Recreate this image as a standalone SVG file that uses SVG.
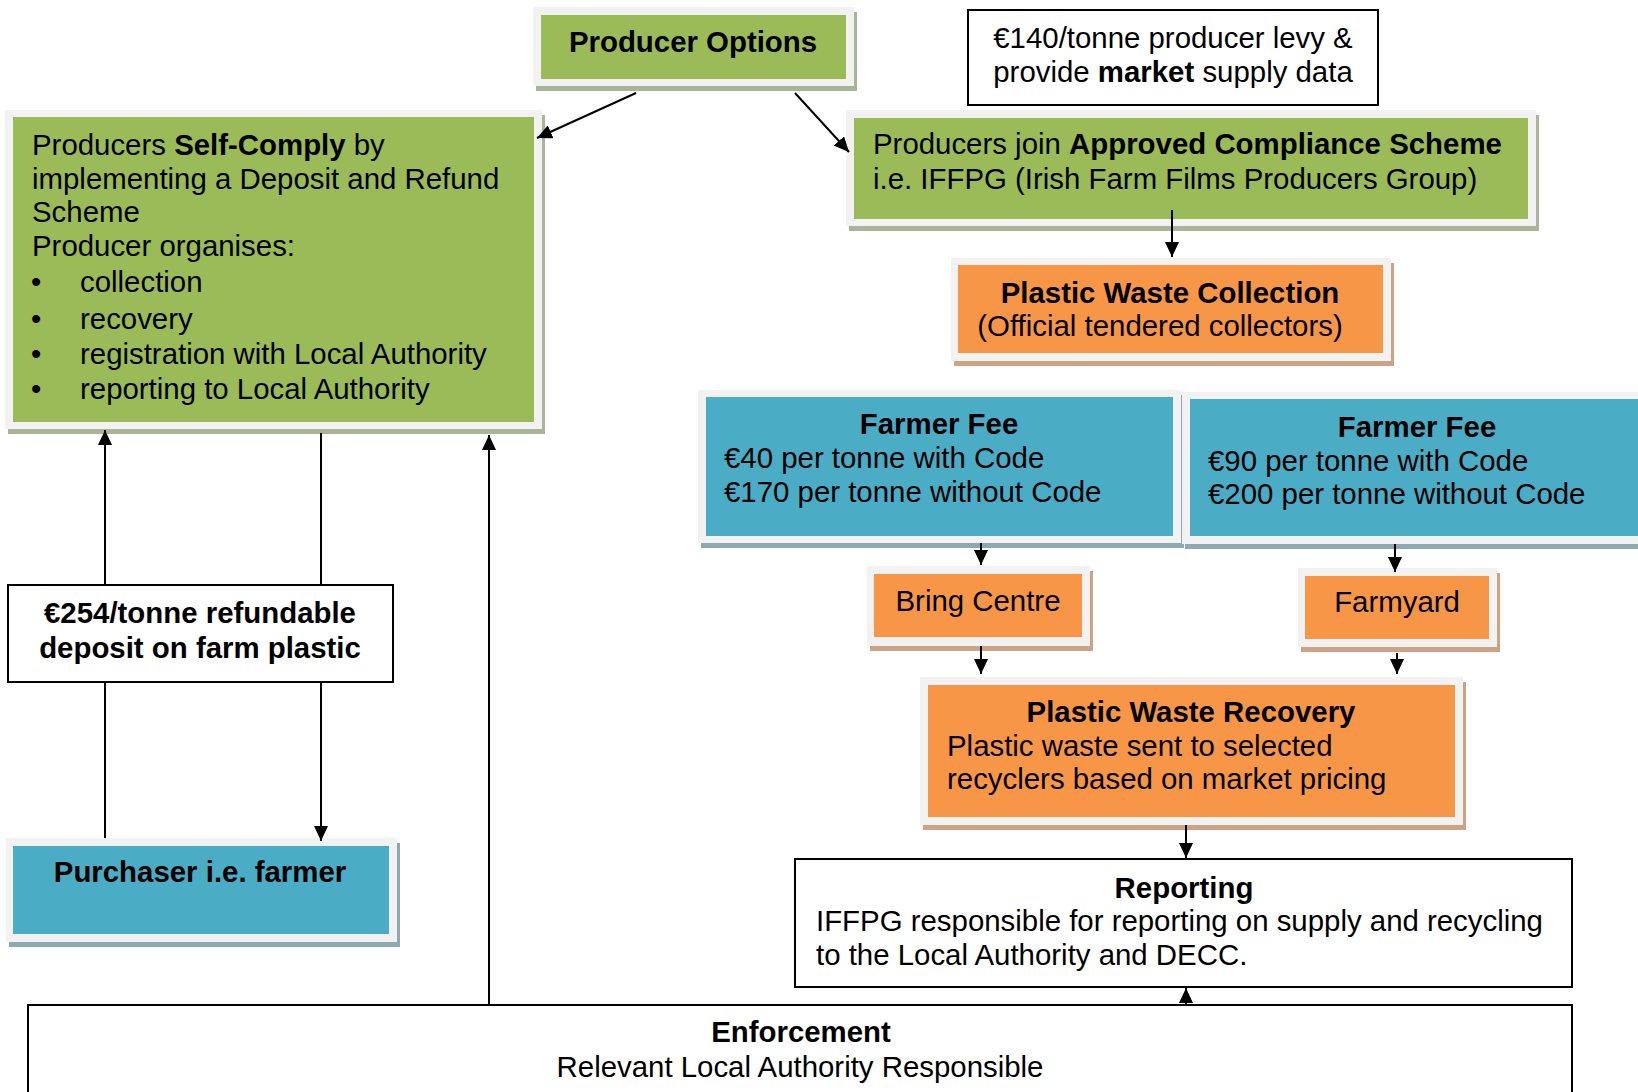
<svg xmlns="http://www.w3.org/2000/svg" width="1638" height="1092" viewBox="0 0 1638 1092">
<defs>
<style>
text{font-family:"Liberation Sans",Arial,sans-serif;font-size:29.4px;fill:#000}
.b{font-weight:bold}
.m{text-anchor:middle}
.frame{fill:#f2f2f2}
.g{fill:#9bbb59}
.o{fill:#f79646}
.c{fill:#4bacc6}
.gs{fill:#a9b596}
.os{fill:#cda386}
.cs{fill:#8fa9b1}
.box{fill:#fff;stroke:#000;stroke-width:2}
.cn line{stroke:#000;stroke-width:2}
</style>
<marker id="ah" markerUnits="userSpaceOnUse" markerWidth="16" markerHeight="14" refX="15" refY="7" orient="auto">
<path d="M0,0 L15,7 L0,14 z" fill="#000"/>
</marker>
</defs>
<rect width="1638" height="1092" fill="#fff"/>

<g id="producer-options">
<rect class="gs" x="536" y="12" width="321" height="79"/>
<rect class="frame" x="533" y="7" width="321" height="79"/>
<rect class="g" x="541" y="15" width="305" height="64"/>
<text class="b m" x="693" y="52">Producer Options</text>
</g>

<g id="levy">
<rect class="box" x="968" y="10" width="410" height="95"/>
<text class="m" x="1173" y="48">€140/tonne producer levy &amp;</text>
<text class="m" x="1173" y="82">provide <tspan class="b">market</tspan> supply data</text>
</g>

<g id="self-comply">
<rect class="gs" x="8" y="115" width="537" height="319"/>
<rect class="frame" x="5" y="110" width="537" height="319"/>
<rect class="g" x="13" y="117" width="521" height="305"/>
<text x="32" y="155">Producers <tspan class="b">Self-Comply</tspan> by</text>
<text x="32" y="189">implementing a Deposit and Refund</text>
<text x="32" y="222">Scheme</text>
<text x="32" y="256">Producer organises:</text>
<text x="31" y="292">•</text><text x="80" y="292">collection</text>
<text x="31" y="329">•</text><text x="80" y="329">recovery</text>
<text x="31" y="364">•</text><text x="80" y="364">registration with Local Authority</text>
<text x="31" y="399">•</text><text x="80" y="399">reporting to Local Authority</text>
</g>

<g id="compliance-scheme">
<rect class="gs" x="849" y="115" width="690" height="116"/>
<rect class="frame" x="846" y="110" width="690" height="116"/>
<rect class="g" x="854" y="118" width="674" height="101"/>
<text x="873" y="154">Producers join <tspan class="b">Approved Compliance Scheme</tspan></text>
<text x="873" y="189">i.e. IFFPG (Irish Farm Films Producers Group)</text>
</g>

<g id="collection">
<rect class="os" x="954" y="263" width="440" height="103"/>
<rect class="frame" x="951" y="258" width="440" height="103"/>
<rect class="o" x="958" y="265" width="425" height="88"/>
<text class="b m" x="1170" y="303">Plastic Waste Collection</text>
<text class="m" x="1160" y="336">(Official tendered collectors)</text>
</g>

<g id="fee-left">
<rect class="cs" x="701" y="395" width="483" height="153"/>
<rect class="frame" x="698" y="390" width="483" height="153"/>
<rect class="c" x="706" y="397" width="467" height="139"/>
<text class="b m" x="939" y="434">Farmer Fee</text>
<text x="724" y="468">€40 per tonne with Code</text>
<text x="724" y="502">€170 per tonne without Code</text>
</g>

<g id="fee-right">
<rect class="cs" x="1185" y="397" width="470" height="152"/>
<rect class="frame" x="1182" y="392" width="470" height="152"/>
<rect class="c" x="1190" y="399" width="460" height="137"/>
<text class="b m" x="1417" y="437">Farmer Fee</text>
<text x="1208" y="471">€90 per tonne with Code</text>
<text x="1208" y="504">€200 per tonne without Code</text>
</g>

<g id="bring-centre">
<rect class="os" x="870" y="571" width="223" height="80"/>
<rect class="frame" x="867" y="566" width="223" height="80"/>
<rect class="o" x="874" y="574" width="208" height="63"/>
<text class="m" x="978" y="611">Bring Centre</text>
</g>

<g id="farmyard">
<rect class="os" x="1301" y="573" width="199" height="79"/>
<rect class="frame" x="1298" y="568" width="199" height="79"/>
<rect class="o" x="1305" y="576" width="184" height="63"/>
<text class="m" x="1397" y="612">Farmyard</text>
</g>

<g id="recovery">
<rect class="os" x="923" y="682" width="543" height="148"/>
<rect class="frame" x="920" y="677" width="543" height="148"/>
<rect class="o" x="928" y="685" width="527" height="132"/>
<text class="b m" x="1191" y="722">Plastic Waste Recovery</text>
<text x="947" y="756">Plastic waste sent to selected</text>
<text x="947" y="789">recyclers based on market pricing</text>
</g>

<g id="reporting">
<rect class="box" x="795" y="859" width="777" height="128"/>
<text class="b m" x="1184" y="898">Reporting</text>
<text x="816" y="931">IFFPG responsible for reporting on supply and recycling</text>
<text x="816" y="965">to the Local Authority and DECC.</text>
</g>

<g id="enforcement">
<rect class="box" x="28" y="1005" width="1544" height="110" stroke-width="2.5"/>
<text class="b m" x="801" y="1042">Enforcement</text>
<text class="m" x="800" y="1077">Relevant Local Authority Responsible</text>
</g>

<g id="deposit">
<rect class="box" x="8" y="585" width="385" height="97"/>
<text class="b m" x="200" y="623">€254/tonne refundable</text>
<text class="b m" x="200" y="658">deposit on farm plastic</text>
</g>

<g id="purchaser">
<rect class="cs" x="9" y="843" width="391" height="104"/>
<rect class="frame" x="6" y="838" width="391" height="104"/>
<rect class="c" x="13" y="846" width="376" height="88"/>
<text class="b m" x="200" y="882">Purchaser i.e. farmer</text>
</g>

<g id="connectors" class="cn">
<line x1="636" y1="93" x2="537" y2="138" marker-end="url(#ah)"/>
<line x1="795" y1="93" x2="849" y2="152" marker-end="url(#ah)"/>
<line x1="1172" y1="210" x2="1172" y2="257" marker-end="url(#ah)"/>
<line x1="981" y1="543" x2="981" y2="565" marker-end="url(#ah)"/>
<line x1="1395" y1="544" x2="1395" y2="572" marker-end="url(#ah)"/>
<line x1="981" y1="646" x2="981" y2="674" marker-end="url(#ah)"/>
<line x1="1397" y1="653" x2="1397" y2="674" marker-end="url(#ah)"/>
<line x1="1186" y1="825" x2="1186" y2="858" marker-end="url(#ah)"/>
<line x1="1186" y1="1004" x2="1186" y2="988" marker-end="url(#ah)"/>
<line x1="489" y1="1004" x2="489" y2="435" marker-end="url(#ah)"/>
<line x1="105" y1="585" x2="105" y2="430" marker-end="url(#ah)"/>
<line x1="105" y1="838" x2="105" y2="682"/>
<line x1="321" y1="433" x2="321" y2="585"/>
<line x1="321" y1="682" x2="321" y2="841" marker-end="url(#ah)"/>
</g>
</svg>
